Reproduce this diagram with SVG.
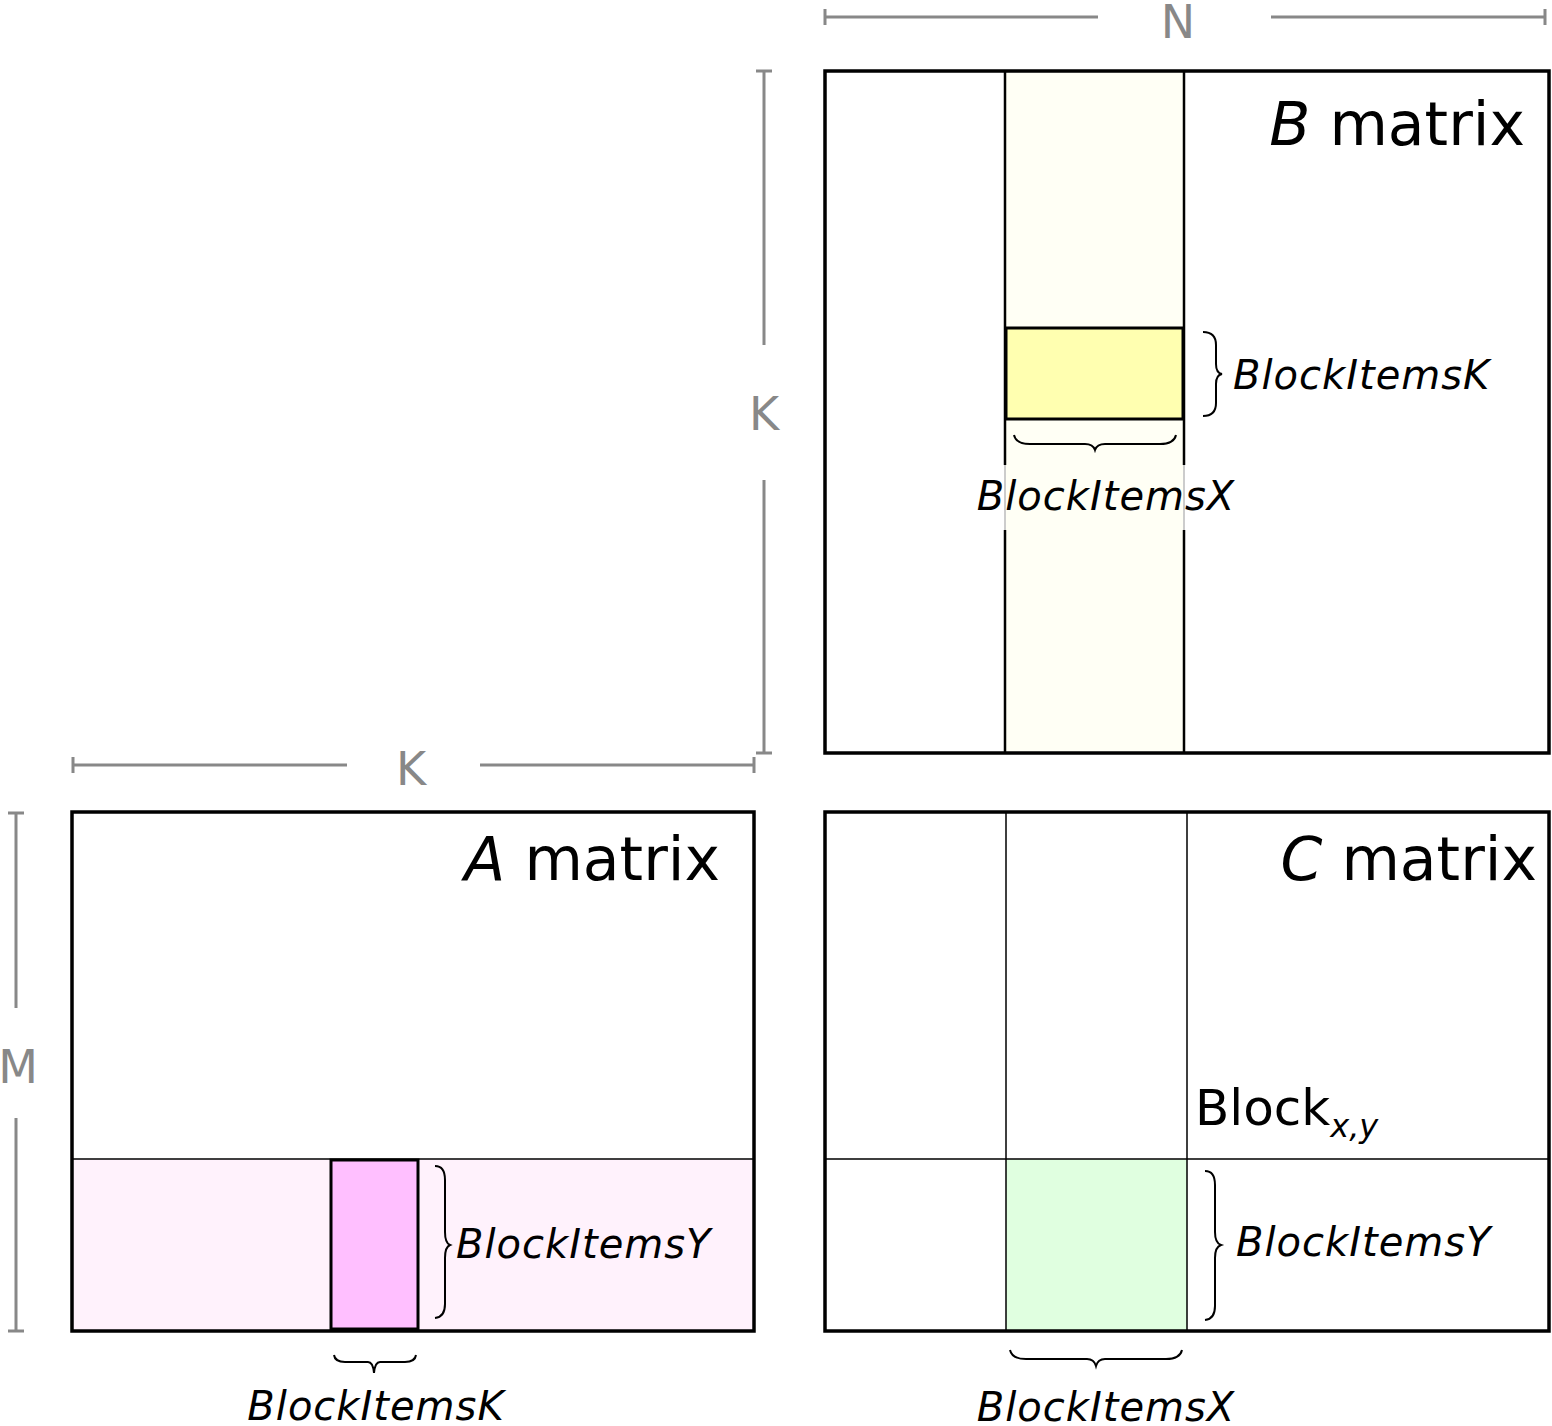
<svg xmlns="http://www.w3.org/2000/svg" width="1552" height="1426" viewBox="0 0 1552 1426">
<style>
.dim{stroke:#888;stroke-width:3;fill:none}
.dt{font-family:"DejaVu Sans",sans-serif;font-size:46px;fill:#888;text-anchor:middle}
.m{fill:none;stroke:#000;stroke-width:3.5}
.thin{stroke:#000;stroke-width:1.5}
.br{fill:none;stroke:#000;stroke-width:2}
.lab{font-family:"DejaVu Sans",sans-serif;font-style:italic;font-size:40px;letter-spacing:1px;fill:#000}
.title{font-family:"DejaVu Sans",sans-serif;font-size:60px;fill:#000;text-anchor:end}
</style>
<g id="dims">
<path class="dim" d="M825 17H1098M1271 17H1545M825 9V25M1545 9V25"/>
<text class="dt" x="1178" y="38">N</text>
<path class="dim" d="M764 71V345M764 480V753M756 71H772M756 753H772"/>
<text class="dt" x="764" y="430">K</text>
<path class="dim" d="M73 765H347M480 765H754M73 757V773M754 757V773"/>
<text class="dt" x="411" y="785">K</text>
<path class="dim" d="M16 813V1008M16 1118V1331M8 813H24M8 1331H24"/>
<text class="dt" x="18" y="1083">M</text>
</g>
<g id="B">
<rect x="1005" y="71" width="179" height="682" fill="#fffff5"/>
<rect x="1006" y="328" width="177" height="91" fill="#ffffb0" stroke="#000" stroke-width="3"/>
<path stroke="#000" stroke-width="2.5" d="M1005 71V465M1005 530V753M1184 71V465M1184 530V753"/>
<path stroke="#ccc" stroke-width="2" d="M1005 465V530M1184 465V530"/>
<rect class="m" x="825" y="71" width="724" height="682"/>
<text class="title" x="1525" y="145"><tspan font-style="italic">B</tspan> matrix</text>
<path class="br" d="M1203 332Q1216 332 1216 345V364Q1216 373 1222 374Q1216 375 1216 384V403Q1216 416 1203 416" stroke-width="3"/>
<text class="lab" x="1233" y="389">BlockItemsK</text>
<path class="br" d="M1014 435Q1016 444 1030 444H1085Q1093 444 1095 450Q1097 444 1105 444H1160Q1174 444 1176 435"/>
<text class="lab" x="1106" y="510" text-anchor="middle">BlockItemsX</text>
</g>
<g id="A">
<rect x="72" y="1159" width="682" height="172" fill="#fff2fc"/>
<rect x="331" y="1160" width="87" height="169" fill="#ffbfff" stroke="#000" stroke-width="3"/>
<path class="thin" d="M72 1159H754"/>
<rect class="m" x="72" y="812" width="682" height="519"/>
<text class="title" x="720" y="880"><tspan font-style="italic">A</tspan> matrix</text>
<path class="br" d="M435 1166Q445 1166 445 1180V1232Q445 1243 450 1245Q445 1247 445 1258V1304Q445 1317 435 1318"/>
<text class="lab" x="456" y="1258">BlockItemsY</text>
<path class="br" stroke-width="3" d="M334 1355Q335 1362 345 1362H368Q373 1362 374 1373Q375 1362 380 1362H405Q415 1362 416 1355"/>
<text class="lab" x="376" y="1420" text-anchor="middle">BlockItemsK</text>
</g>
<g id="C">
<rect x="1006" y="1159" width="181" height="172" fill="#e0ffe0"/>
<path class="thin" d="M1006 812V1331M1187 812V1331M825 1159H1549"/>
<rect class="m" x="825" y="812" width="724" height="519"/>
<text class="title" x="1537" y="880"><tspan font-style="italic">C</tspan> matrix</text>
<text x="1195" y="1125" font-family="DejaVu Sans,sans-serif" font-size="50">Block<tspan font-size="32" font-style="italic" dy="12">x,y</tspan></text>
<path class="br" d="M1205 1171Q1215 1171 1215 1185V1232Q1215 1243 1221 1245Q1215 1247 1215 1258V1306Q1215 1319 1205 1320"/>
<text class="lab" x="1236" y="1256">BlockItemsY</text>
<path class="br" d="M1010 1350Q1012 1359 1026 1359H1087Q1094 1359 1096 1366Q1098 1359 1105 1359H1166Q1180 1359 1182 1350"/>
<text class="lab" x="1106" y="1421" text-anchor="middle">BlockItemsX</text>
</g>
</svg>
